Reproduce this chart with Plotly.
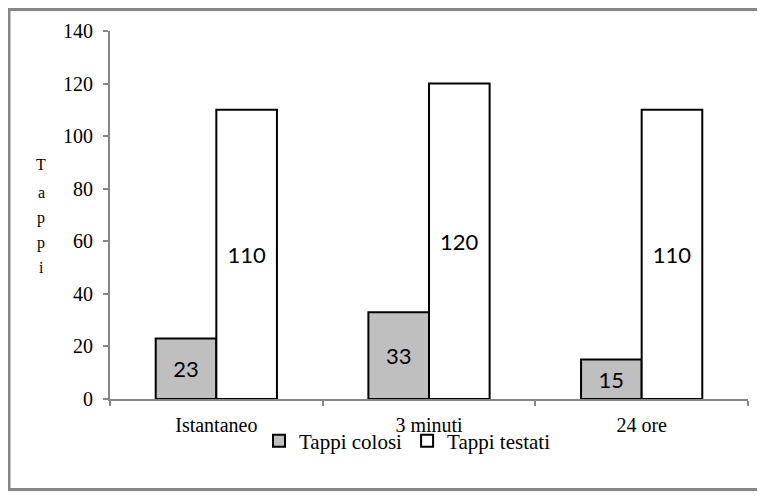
import plotly.graph_objects as go

categories = ["Istantaneo", "3 minuti", "24 ore"]
tappi_colosi = [23, 33, 15]
tappi_testati = [110, 120, 110]
series_names = ["Tappi colosi", "Tappi testati"]
y_title = "Tappi"

OFF = 8  # browser body margin
W, H = 765 - 2 * OFF, 499 - 2 * OFF
# plot area in page pixels: x 110..748, y 31..399
L, R, T, B = 110 - OFF, W - (748 - OFF), 31 - OFF, H - (399 - OFF)
pw, ph = W - L - R, H - T - B

serif = "Liberation Serif"
label_font = dict(family="Lato", size=22, color="black")

fig = go.Figure()
fig.add_trace(go.Bar(
    name=series_names[0], x=categories, y=tappi_colosi,
    marker=dict(color="#BFBFBF", line=dict(color="black", width=2)),
    text=tappi_colosi, textposition="inside", insidetextanchor="middle",
    textangle=0, constraintext="none", insidetextfont=label_font,
))
fig.add_trace(go.Bar(
    name=series_names[1], x=categories, y=tappi_testati,
    marker=dict(color="white", line=dict(color="black", width=2)),
    text=tappi_testati, textposition="inside", insidetextanchor="middle",
    textangle=0, constraintext="none", insidetextfont=label_font,
))

axis_gray = "#868686"
fig.update_layout(
    width=W, height=H, autosize=False,
    margin=dict(l=L, r=R, t=T, b=B, pad=0, autoexpand=False),
    paper_bgcolor="white", plot_bgcolor="white",
    barmode="group", bargap=0.43, bargroupgap=0,
    font=dict(family=serif, size=20, color="black"),
    showlegend=True,
    legend=dict(orientation="h", xref="container", yref="container",
                x=(259 - OFF) / W, xanchor="left", y=1 - (441 - OFF) / H, yanchor="middle",
                font=dict(family=serif, size=21, color="black"),
                itemwidth=30, traceorder="normal", bgcolor="rgba(0,0,0,0)"),
    xaxis=dict(type="category", showline=True, linecolor=axis_gray, linewidth=2,
               ticks="outside", tickson="boundaries", ticklen=5, tickcolor=axis_gray,
               tickwidth=2, showgrid=False, zeroline=False, automargin=False,
               ticklabelstandoff=7,
               tickfont=dict(family=serif, size=20, color="black")),
    yaxis=dict(range=[0, 140], dtick=20, showline=True, linecolor=axis_gray, linewidth=2,
               ticks="outside", ticklen=5, tickcolor=axis_gray, tickwidth=2,
               showgrid=False, zeroline=False, ticklabelstandoff=6, automargin=False,
               tickfont=dict(family=serif, size=20, color="black")),
)

# vertical stacked y-axis title
letter_y = [165, 192, 218, 243, 267]
for ch, yy in zip(y_title, letter_y):
    fig.add_annotation(text=ch, xref="paper", yref="paper",
                       x=(41 - 110) / pw, y=(399 - yy) / ph,
                       showarrow=False, xanchor="center", yanchor="middle",
                       font=dict(family=serif, size=16, color="black"))

# outer chart border (kept inside the figure; right edge is off-screen in the reference)
fig.add_shape(type="rect", xref="paper", yref="paper",
              x0=(9 - 110) / pw, x1=(790 - 110) / pw,
              y0=(399 - (OFF + H - 1.5)) / ph, y1=(399 - (OFF + 1.5)) / ph,
              line=dict(color=axis_gray, width=3), fillcolor="rgba(0,0,0,0)", layer="below")

fig.write_html("out.html")
